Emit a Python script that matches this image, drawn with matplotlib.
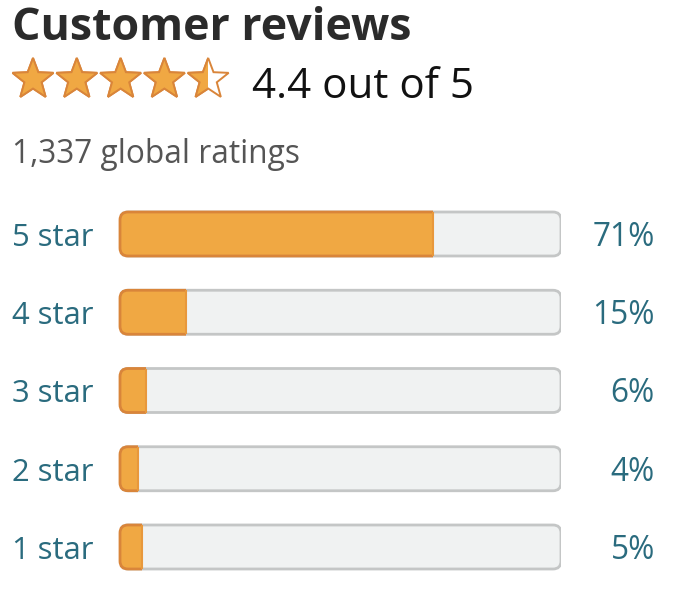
import numpy as np
import matplotlib
matplotlib.use('Agg')
import matplotlib.pyplot as plt
from matplotlib.patches import FancyBboxPatch, Rectangle, Polygon

plt.rcParams['font.family'] = ['Open Sans', 'DejaVu Sans']

# ---- data ----
star_labels = ['5 star', '4 star', '3 star', '2 star', '1 star']
percents = [71, 15, 6, 4, 5]
rating = 4.4
rating_stars = 4.5  # shown as four and a half stars
total_ratings = 1337

ORANGE = '#F0A843'
ORANGE_EDGE = '#D9853A'
GRAY_FILL = '#F0F2F2'
GRAY_EDGE = '#C4C6C6'
TEAL = '#2A6B7E'

W, H = 682, 590
fig = plt.figure(figsize=(W / 100, H / 100), dpi=100)

# overlay axes in pixel units for header text and stars
ax0 = fig.add_axes([0, 0, 1, 1])
ax0.set_xlim(0, W)
ax0.set_ylim(H, 0)
ax0.axis('off')

ax0.text(12, 40, 'Customer reviews', fontsize=32.2, fontweight='bold',
         color='#2B2B2B', va='baseline', ha='left')


def star_points(cx, cy, R, ratio=0.42):
    pts = []
    for i in range(10):
        ang = np.pi / 2 + i * np.pi / 5
        r = R if i % 2 == 0 else R * ratio
        pts.append((cx + r * np.cos(ang), cy - r * np.sin(ang)))
    return pts


R = 21.5
for i in range(5):
    cx, cy = 33 + i * 43.8, 79.5
    pts = star_points(cx, cy, R)
    frac = min(max(rating_stars - i, 0), 1)
    ax0.add_patch(Polygon(pts, closed=True, facecolor='white',
                          edgecolor=ORANGE_EDGE, linewidth=1.4, zorder=2))
    if frac > 0:
        fill = Polygon(pts, closed=True, facecolor=ORANGE,
                       edgecolor=ORANGE_EDGE, linewidth=1.4, zorder=3)
        ax0.add_patch(fill)
        if frac < 1:
            clip = Rectangle((cx - R - 3, cy - R - 3), (2 * R) * frac + 3, 2 * R + 6,
                             transform=ax0.transData)
            fill.set_clip_path(clip)

ax0.text(252, 98, f'{rating} out of 5', fontsize=30.3, color='#111111',
         va='baseline', ha='left')
ax0.text(12, 163, f'{total_ratings:,} global ratings', fontsize=22.8,
         color='#555555', va='baseline', ha='left')

# bars axes
top_px, row_px = 234, 78.25
y0 = top_px - row_px / 2
y1 = y0 + row_px * 5
ax = fig.add_axes([120 / W, 1 - y1 / H, 441 / W, (y1 - y0) / H])
ax.set_xlim(0, 100)
ax.set_ylim(4.5, -0.5)
ax.axis('off')

px_x = 441 / 100
px_y = row_px
rad = 8 / px_x
aspect = px_x / px_y
bar_h = 44 / px_y

for i, (lab, p) in enumerate(zip(star_labels, percents)):
    bg = FancyBboxPatch((0, i - bar_h / 2), 100, bar_h,
                        boxstyle=f'round,pad=0,rounding_size={rad}',
                        mutation_aspect=aspect, facecolor=GRAY_FILL,
                        edgecolor=GRAY_EDGE, linewidth=2, zorder=1)
    ax.add_patch(bg)
    fg = FancyBboxPatch((0, i - bar_h / 2), 100, bar_h,
                        boxstyle=f'round,pad=0,rounding_size={rad}',
                        mutation_aspect=aspect, facecolor=ORANGE,
                        edgecolor=ORANGE_EDGE, linewidth=2, zorder=2)
    ax.add_patch(fg)
    fg.set_clip_path(Rectangle((-2, i - 0.5), p + 2, 1, transform=ax.transData))
    ax.plot([p, p], [i - bar_h / 2, i + bar_h / 2], color='#E8983C',
            linewidth=1.5, zorder=3, solid_capstyle='butt')

    ypx = top_px + i * row_px
    ax0.text(12, ypx + 12, lab, fontsize=22.3, color=TEAL, va='baseline', ha='left')
    ax0.text(655, ypx + 12, f'{p}%', fontsize=22.8, color=TEAL, va='baseline', ha='right')

fig.savefig('out.png', dpi=100)
